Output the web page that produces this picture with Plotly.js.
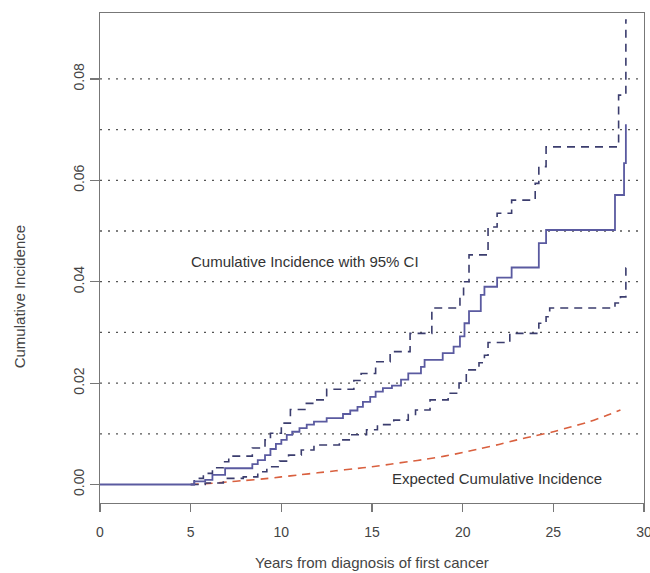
<!DOCTYPE html>
<html>
<head>
<meta charset="utf-8">
<script src="https://cdn.plot.ly/plotly-3.0.1.min.js"></script>
<style>
  html, body { margin: 0; padding: 0; background: #ffffff; }
  #chart { width: 650px; height: 573px; }
</style>
</head>
<body>
<div id="chart"></div>
<script>
// Observed cumulative incidence (step function)
const ciYears = [0, 5.2, 5.8, 6.2, 6.9, 8.4, 8.7, 9.1, 9.4, 9.7, 10.0, 10.3, 10.6, 11.0, 11.4, 11.8, 12.5, 13.4, 13.8, 14.2, 14.5, 14.9, 15.2, 15.6, 16.1, 16.6, 17.0, 17.7, 17.9, 18.9, 19.5, 19.85, 20.1, 20.35, 21.0, 21.2, 21.9, 22.7, 24.2, 24.6, 28.4, 28.9, 29.0, 29.05];
const ciValues = [0, 0.0006, 0.0009, 0.0019, 0.0032, 0.0040, 0.0048, 0.0058, 0.0070, 0.0080, 0.0088, 0.0098, 0.0104, 0.0111, 0.0118, 0.0124, 0.0131, 0.0139, 0.0146, 0.0153, 0.0163, 0.0173, 0.0183, 0.0190, 0.0195, 0.0207, 0.0219, 0.0232, 0.0246, 0.0259, 0.0272, 0.0292, 0.0318, 0.0342, 0.0374, 0.0390, 0.0408, 0.0428, 0.0476, 0.0502, 0.0571, 0.0634, 0.0709, 0.0709];

// Upper 95% CI
const upperYears = [5.0, 5.2, 5.7, 6.2, 6.8, 7.1, 8.4, 9.1, 9.4, 10.0, 10.5, 11.3, 11.9, 12.5, 14.0, 14.4, 15.2, 16.0, 17.1, 18.3, 19.85, 20.05, 20.35, 21.4, 21.9, 22.7, 24.0, 24.2, 24.6, 28.6, 29.0, 29.05];
const upperValues = [0, 0.0012, 0.0022, 0.0033, 0.0045, 0.0056, 0.0072, 0.0088, 0.0101, 0.0121, 0.0148, 0.0160, 0.0167, 0.0188, 0.0205, 0.0219, 0.0242, 0.0262, 0.0298, 0.0348, 0.0370, 0.0400, 0.0453, 0.0508, 0.0535, 0.0561, 0.0594, 0.0627, 0.0666, 0.0768, 0.0916, 0.0916];

// Lower 95% CI
const lowerYears = [5.0, 5.8, 6.8, 7.9, 8.7, 9.2, 9.9, 10.4, 11.1, 11.8, 13.2, 13.8, 14.7, 15.3, 16.2, 17.0, 17.4, 18.2, 19.2, 19.8, 20.2, 20.9, 21.2, 21.4, 22.6, 24.2, 24.6, 24.8, 28.4, 28.7, 29.0, 29.05];
const lowerValues = [0, 0.0003, 0.0012, 0.0015, 0.0025, 0.0035, 0.0046, 0.0058, 0.0068, 0.0078, 0.0088, 0.0098, 0.0108, 0.0118, 0.0127, 0.0138, 0.0147, 0.0167, 0.0180, 0.0200, 0.0226, 0.0240, 0.0255, 0.0280, 0.0298, 0.0318, 0.0331, 0.0348, 0.0358, 0.0370, 0.0427, 0.0427];

// Expected cumulative incidence
const expYears = [5.0, 6.0, 7.0, 8.0, 9.0, 10.0, 11.0, 12.0, 13.0, 14.0, 15.0, 16.0, 17.0, 18.0, 19.0, 20.0, 21.0, 22.0, 23.0, 24.0, 25.0, 26.0, 27.0, 28.0, 28.7];
const expValues = [0, 0.0002, 0.0005, 0.0008, 0.0011, 0.0015, 0.0019, 0.0023, 0.0027, 0.0031, 0.0035, 0.0040, 0.0045, 0.0050, 0.0056, 0.0063, 0.0071, 0.0079, 0.0088, 0.0096, 0.0104, 0.0114, 0.0124, 0.0137, 0.0147];

const gridValues = [0.01, 0.02, 0.03, 0.04, 0.05, 0.06, 0.07, 0.08];
const xTicks = [0, 5, 10, 15, 20, 25, 30];
const yTicks = [0, 0.02, 0.04, 0.06, 0.08];
const yTickLabels = ['0.00', '0.02', '0.04', '0.06', '0.08'];

const font = 'Liberation Sans, Arial, sans-serif';

const traces = [
  {
    x: expYears, y: expValues, type: 'scatter', mode: 'lines',
    line: { color: '#d9603f', width: 1.6, dash: '8px,6px', shape: 'spline', smoothing: 0.6 },
    hoverinfo: 'skip', showlegend: false
  },
  {
    x: lowerYears, y: lowerValues, type: 'scatter', mode: 'lines',
    line: { color: '#3b3d6e', width: 1.6, dash: '8px,6px', shape: 'hv' },
    hoverinfo: 'skip', showlegend: false
  },
  {
    x: upperYears, y: upperValues, type: 'scatter', mode: 'lines',
    line: { color: '#3b3d6e', width: 1.6, dash: '8px,6px', shape: 'hv' },
    hoverinfo: 'skip', showlegend: false
  },
  {
    x: ciYears, y: ciValues, type: 'scatter', mode: 'lines',
    line: { color: '#5a5aa0', width: 1.8, shape: 'hv' },
    hoverinfo: 'skip', showlegend: false
  }
];

const shapes = gridValues.map(v => ({
  type: 'line', xref: 'paper', yref: 'y', x0: 0, x1: 1, y0: v, y1: v,
  line: { color: '#555555', width: 1.3, dash: '2px,6px' }, layer: 'below'
}));

const layout = {
  width: 650, height: 573,
  margin: { l: 100, r: 6, t: 13, b: 70, pad: 0 },
  paper_bgcolor: '#ffffff', plot_bgcolor: '#ffffff',
  font: { family: font, color: '#444444', size: 14 },
  showlegend: false,
  xaxis: {
    range: [0, 30], tickvals: xTicks, ticktext: xTicks.map(String),
    showgrid: false, zeroline: false,
    showline: true, mirror: true, linecolor: '#777777', linewidth: 1.2,
    ticks: 'outside', ticklen: 8, tickcolor: '#777777', tickwidth: 1.2,
    ticklabelstandoff: 8, ticklabeloverflow: 'allow',
    tickfont: { family: font, size: 14, color: '#444444' }
  },
  yaxis: {
    range: [-0.00365, 0.0930], tickvals: yTicks, ticktext: yTickLabels,
    tickangle: -90,
    showgrid: false, zeroline: false,
    showline: true, mirror: true, linecolor: '#777777', linewidth: 1.2,
    ticks: 'outside', ticklen: 9, tickcolor: '#777777', tickwidth: 1.2,
    ticklabeloverflow: 'allow',
    tickfont: { family: font, size: 14, color: '#444444' }
  },
  shapes: shapes,
  annotations: [
    {
      text: 'Cumulative Incidence with 95% CI', x: 11.3, y: 0.0439, xref: 'x', yref: 'y',
      showarrow: false, font: { family: font, size: 15, color: '#333333' }
    },
    {
      text: 'Expected Cumulative Incidence', x: 21.9, y: 0.0012, xref: 'x', yref: 'y',
      showarrow: false, font: { family: font, size: 15, color: '#333333' }
    },
    {
      text: 'Cumulative Incidence', xref: 'paper', yref: 'paper', x: -0.168, y: 0.42,
      textangle: -90, showarrow: false, font: { family: font, size: 15, color: '#444444' }
    },
    {
      text: 'Years from diagnosis of first cancer', xref: 'paper', yref: 'paper', x: 0.5, y: -0.1224,
      yanchor: 'middle', showarrow: false, font: { family: font, size: 15, color: '#444444' }
    }
  ]
};

Plotly.newPlot('chart', traces, layout, { staticPlot: true, displayModeBar: false });
</script>
</body>
</html>
